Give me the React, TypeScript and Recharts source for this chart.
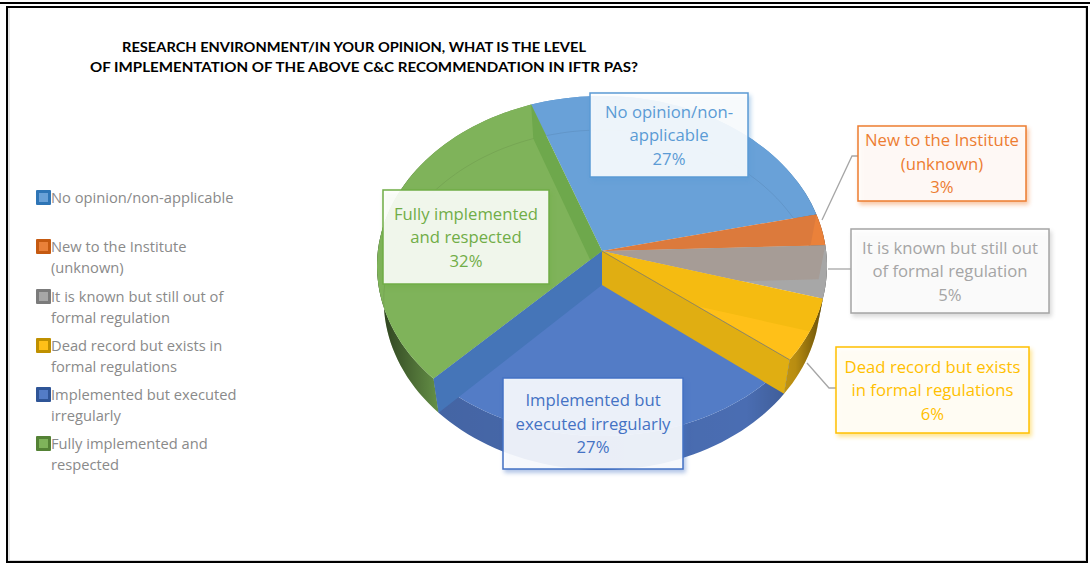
import React from 'react';
import { PieChart, Pie, Legend } from 'recharts';

const categories = [
  'No opinion/non-applicable',
  'New to the Institute (unknown)',
  'It is known but still out of formal regulation',
  'Dead record but exists in formal regulations',
  'Implemented but executed irregularly',
  'Fully implemented and respected',
];
const percentages = [27, 3, 5, 6, 27, 32];

// slice look
const faceColors = ['#69a1d8', '#ea813a', '#a7a7a7', '#ffc018', '#537cc6', '#7fb35a'];
const rimColors = ['#5b9bd5', '#ed7d31', '#b4b4b4', '#e0ab14', '#4a6db2', '#70a04e'];
const textColors = ['#5b9bd5', '#ed7d31', '#a5a5a5', '#ffc000', '#4472c4', '#70ad47'];
const swatchEdges = ['#2e75b6', '#c55a11', '#7b7b7b', '#bf9000', '#2f5597', '#548235'];
const wallStartColors = [null, '#dc7a3c', '#a69c96', '#f5bb11', null, null];
const wallEndColors = [null, null, null, '#e0ae12', '#4575b8', '#6ea84c'];

// data label text and boxes
const labelLines = [
  ['No opinion/non-', 'applicable'],
  ['New to the Institute', '(unknown)'],
  ['It is known but still out', 'of formal regulation'],
  ['Dead record but exists', 'in formal regulations'],
  ['Implemented but', 'executed irregularly'],
  ['Fully implemented', 'and respected'],
];
const labelBoxes = [
  { x: 590, y: 93, w: 158, h: 84 },
  { x: 858, y: 126, w: 168, h: 75 },
  { x: 851, y: 229, w: 198, h: 84 },
  { x: 836, y: 347, w: 193, h: 86 },
  { x: 503, y: 378, w: 180, h: 91 },
  { x: 383, y: 190, w: 166, h: 94 },
];
const leaderLines = [
  null,
  '822,220 852,156 858,156',
  '828,269 851,269',
  '807,363 829,388 836,388',
  null,
  null,
];

const legendLines = [
  ['No opinion/non-applicable'],
  ['New to the Institute', '(unknown)'],
  ['It is known but still out of', 'formal regulation'],
  ['Dead record but exists in', 'formal regulations'],
  ['Implemented but executed', 'irregularly'],
  ['Fully implemented and', 'respected'],
];

const titleLines = [
  'RESEARCH ENVIRONMENT/IN YOUR OPINION, WHAT IS THE LEVEL',
  'OF IMPLEMENTATION OF THE ABOVE C&C RECOMMENDATION IN IFTR PAS?',
];

const chartData = categories.map((name, i) => ({ name, value: percentages[i], fill: faceColors[i] }));

const SQUASH = 170 / 225;
const TILT = 0.088;
const DEPTH = 34;
const BOTTOM_SCALE = 0.97; // the far face of the disc looks a bit narrower
const LABEL_FONT = '"Open Sans", sans-serif';

// pie circle -> tilted ellipse with perspective, so the centre sits above the middle of the ellipse
const project = (cx: number, cy: number, r: number, deg: number): [number, number] => {
  const t = (deg * Math.PI) / 180;
  const c = Math.cos(t);
  const s = Math.sin(t);
  const d = 1 + TILT * s;
  return [cx + (r * c * Math.sqrt(1 - TILT * TILT)) / d, cy - (r * SQUASH * (s + TILT)) / d];
};

const arcPoints = (p: any, shift = 0) => {
  const pts: string[] = [];
  const steps = Math.max(4, Math.ceil(Math.abs(p.endAngle - p.startAngle) / 2));
  const scale = shift ? BOTTOM_SCALE : 1;
  for (let i = 0; i <= steps; i++) {
    const a = p.startAngle + ((p.endAngle - p.startAngle) * i) / steps;
    const [x, y] = project(p.cx, p.cy, p.outerRadius, a);
    pts.push(`${(p.cx + (x - p.cx) * scale).toFixed(1)},${(y + shift).toFixed(1)}`);
  }
  return pts;
};

const facePath = (p: any) => {
  const apexY = p.cy - p.outerRadius * SQUASH * TILT;
  return `M${p.cx},${apexY}L${arcPoints(p).join('L')}Z`;
};

const RimShape = (p: any) => {
  const top = arcPoints(p);
  const bottom = arcPoints(p, DEPTH).reverse();
  const d = `M${top.join('L')}L${bottom.join('L')}Z`;
  return (
    <g>
      <path d={d} fill={rimColors[categories.indexOf(p.name)]} />
      <path d={d} fill="url(#rimShade)" />
    </g>
  );
};

const FaceShape = (p: any) => <path d={facePath(p)} fill={p.fill} />;

const wallPath = (p: any, deg: number) => {
  const apexY = p.cy - p.outerRadius * SQUASH * TILT;
  const [x, y] = project(p.cx, p.cy, p.outerRadius, deg);
  const bottomX = p.cx + (x - p.cx) * BOTTOM_SCALE;
  return `M${p.cx},${apexY}L${x},${y}L${bottomX},${y + DEPTH}L${p.cx},${apexY + DEPTH}Z`;
};

const WallShape = (p: any) => {
  const i = categories.indexOf(p.name);
  const clipId = `face-clip-${i}`;
  const startFill = wallStartColors[i];
  const endFill = wallEndColors[i];
  const apexY = p.cy - p.outerRadius * SQUASH * TILT;
  const [ex, ey] = project(p.cx, p.cy, p.outerRadius, p.endAngle);
  return (
    <g>
      <clipPath id={clipId}>
        <path d={facePath(p)} />
      </clipPath>
      {startFill && <path d={wallPath(p, p.startAngle)} fill={startFill} clipPath={`url(#${clipId})`} />}
      {endFill && (
        <path
          d={wallPath(p, p.endAngle)}
          fill={endFill}
          clipPath={i === 5 ? `url(#${clipId})` : undefined}
        />
      )}
      {i === 3 && <path d={`M${p.cx},${apexY}L${ex},${ey}`} stroke="#77756a" strokeWidth={0.7} fill="none" />}
      {(i === 0 || i === 5) && (
        <path
          d={`M${arcPoints(p, DEPTH).join('L')}`}
          stroke="#000"
          strokeOpacity={0.07}
          fill="none"
          clipPath={`url(#${clipId})`}
        />
      )}
    </g>
  );
};

const renderLabel = (p: any) => {
  const i = p.index;
  const box = labelBoxes[i];
  const color = textColors[i];
  const lines = [...labelLines[i], `${Math.round(p.percent * 100)}%`];
  const mid = box.x + box.w / 2;
  const firstY = box.y + box.h / 2 - 23.5;
  return (
    <g key={p.name}>
      {leaderLines[i] && <polyline points={leaderLines[i]} fill="none" stroke="#a6a6a6" strokeWidth={1.3} />}
      <rect
        x={box.x}
        y={box.y}
        width={box.w}
        height={box.h}
        fill="#fff"
        fillOpacity={0.89}
        stroke={color}
        strokeWidth={1.5}
        style={{ filter: `drop-shadow(2px 3px 2px ${color}77)` }}
      />
      {lines.map((line, n) => (
        <text
          key={n}
          x={mid}
          y={firstY + n * 23.5 + 6}
          textAnchor="middle"
          fontFamily={LABEL_FONT}
          fontSize={16.7}
          fill={color}
        >
          {line}
        </text>
      ))}
    </g>
  );
};

const LegendContent = () => (
  <div>
    {legendLines.map((lines, i) => (
      <div key={i} style={{ height: 49.3, display: 'flex', alignItems: 'flex-start' }}>
        <span
          style={{
            boxSizing: 'border-box',
            width: 15,
            height: 15,
            marginTop: 3,
            flex: 'none',
            background: faceColors[i],
            border: `3px solid ${swatchEdges[i]}`,
            borderRadius: 1,
          }}
        />
        <span style={{ fontFamily: LABEL_FONT, fontSize: 14.7, lineHeight: '21px', color: '#8a8a8a' }}>
          {lines.map((line) => (
            <div key={line} style={{ whiteSpace: 'nowrap' }}>
              {line}
            </div>
          ))}
        </span>
      </div>
    ))}
  </div>
);

export default function App() {
  return (
    <div style={{ position: 'absolute', left: 0, top: 0, width: 1090, height: 563, background: '#fff', overflow: 'hidden' }}>
      {/* page frame */}
      <div style={{ position: 'absolute', left: 0, top: 2, width: 1090, height: 2, background: '#000' }} />
      <div
        style={{
          position: 'absolute',
          left: 6,
          top: 6,
          width: 1082,
          height: 557,
          boxSizing: 'border-box',
          border: '2px solid #000',
          boxShadow: 'inset 2px 0 0 #e6e6e6, inset -1px -1px 0 #d9d9d9',
        }}
      />
      <PieChart width={1090} height={563} margin={{ top: 0, right: 0, bottom: 0, left: 0 }} style={{ position: 'absolute', left: 0, top: 0 }}>
        <defs>
          <linearGradient id="rimShade" gradientUnits="userSpaceOnUse" x1="378" y1="0" x2="827" y2="0">
            <stop offset="0" stopColor="#000" stopOpacity={0.62} />
            <stop offset="0.14" stopColor="#000" stopOpacity={0.08} />
            <stop offset="0.82" stopColor="#000" stopOpacity={0} />
            <stop offset="0.93" stopColor="#000" stopOpacity={0.18} />
            <stop offset="1" stopColor="#000" stopOpacity={0.6} />
          </linearGradient>
        </defs>
        <text x={354} y={52} textAnchor="middle" fontFamily="Lato, sans-serif" fontWeight={700} fontSize={14} textLength={464} lengthAdjust="spacingAndGlyphs" fill="#000">
          {titleLines[0]}
        </text>
        <text x={364} y={72} textAnchor="middle" fontFamily="Lato, sans-serif" fontWeight={700} fontSize={14} textLength={548} lengthAdjust="spacingAndGlyphs" fill="#000">
          {titleLines[1]}
        </text>
        <Pie data={chartData} dataKey="value" nameKey="name" cx={602} cy={266} outerRadius={225} startAngle={110} endAngle={-250} isAnimationActive={false} shape={RimShape} legendType="none" stroke="none" />
        <Pie data={chartData} dataKey="value" nameKey="name" cx={602} cy={266} outerRadius={225} startAngle={110} endAngle={-250} isAnimationActive={false} shape={FaceShape} legendType="none" stroke="none" />
        <Pie data={chartData} dataKey="value" nameKey="name" cx={602} cy={266} outerRadius={225} startAngle={110} endAngle={-250} isAnimationActive={false} shape={WallShape} label={renderLabel} labelLine={false} stroke="none" />
        <Legend content={<LegendContent />} wrapperStyle={{ position: 'absolute', left: 36, top: 187, width: 230 }} />
      </PieChart>
    </div>
  );
}
